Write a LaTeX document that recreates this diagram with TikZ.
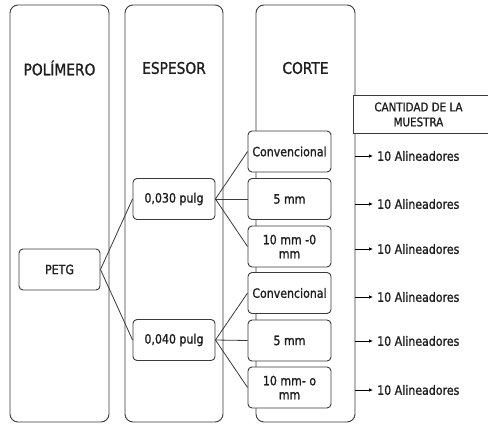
\documentclass[tikz,border=0pt]{standalone}
\usepackage{fontspec}
\setmainfont{DejaVu Sans}[FakeStretch=0.86, BoldFont={DejaVu Sans}, BoldFeatures={FakeBold=1.2}]
\usetikzlibrary{arrows.meta}
\definecolor{lg}{HTML}{3A3A3A}
\definecolor{tx}{HTML}{1E1E1E}
\tikzset{
  col/.style={draw=lg, line width=0.9pt, rounded corners=8pt, minimum height=417pt, inner sep=0pt},
  ttl/.style={font=\bfseries\fontsize{16}{18}\selectfont, text=tx},
  bx/.style={draw=lg, fill=white, line width=0.9pt, rounded corners=4pt, minimum height=41pt, inner sep=0pt, align=center, font=\bfseries\fontsize{12.8}{14}\selectfont, text=tx},
  conn/.style={draw=lg, line width=0.8pt},
  arr/.style={draw=black, line width=0.7pt, -{Latex[length=4pt,width=3.5pt]}},
  res/.style={anchor=west, inner sep=0pt, font=\bfseries\fontsize{12.8}{14}\selectfont, text=tx}
}
\begin{document}
\begin{tikzpicture}[x=1pt,y=-1pt]
\useasboundingbox[fill=white] (0,0) rectangle (488,424);
\begin{scope}
\clip (0,0) rectangle (488,424);
% columns
\node[col, minimum width=99pt] (c1) at (59.5,213.5) {};
\node[col, minimum width=98pt] (c2) at (174,213.5) {};
\node[col, minimum width=99pt] (c3) at (305.5,213.5) {};
\node[ttl] (t1) at (59.5,68) {POLÍMERO};
\node[ttl] (t2) at (174,68) {ESPESOR};
\node[ttl] (t3) at (305.5,68) {CORTE};
% quantity header
\node[draw=lg, fill=white, line width=0.9pt, minimum width=140pt, minimum height=38pt, inner sep=0pt, anchor=north west, align=center, font=\bfseries\fontsize{12}{15}\selectfont, text=tx] (q) at (353,95) {\hspace*{-10pt}CANTIDAD DE LA\\\hspace*{-10pt}MUESTRA};
% boxes
\node[bx, minimum width=81pt] (petg) at (59.5,269.5) {PETG};
\node[bx, minimum width=82pt] (e1) at (174,199) {0,030 pulg};
\node[bx, minimum width=82pt] (e2) at (174,340) {0,040 pulg};
\node[bx, minimum width=83pt] (k1) at (289.5,151.5) {Convencional};
\node[bx, minimum width=83pt] (k2) at (289.5,199) {5 mm};
\node[bx, minimum width=83pt] (k3) at (289.5,246.5) {10 mm -0\\mm};
\node[bx, minimum width=83pt] (k4) at (289.5,293) {Convencional};
\node[bx, minimum width=83pt] (k5) at (289.5,340.5) {5 mm};
\node[bx, minimum width=83pt] (k6) at (289.5,387.5) {10 mm- o\\mm};
% connectors
\draw[conn] (petg.east) -- (e1.west);
\draw[conn] (petg.east) -- (e2.west);
\draw[conn] (e1.east) -- (k1.west);
\draw[conn] (e1.east) -- (k2.west);
\draw[conn] (e1.east) -- (k3.west);
\draw[conn] (e2.east) -- (k4.west);
\draw[conn] (e2.east) -- (k5.west);
\draw[conn] (e2.east) -- (k6.west);
% results
\foreach \i/\yy in {1/156,2/204,3/249,4/297,5/341,6/390}{
  \coordinate (s\i) at (c3.east |- 0,\yy);
  \coordinate (a\i) at (373,\yy);
  \draw[arr] (s\i) -- (a\i);
  \node[res] (r\i) at (377,\yy) {10 Alineadores};
}
\end{scope}
\end{tikzpicture}
\end{document}
